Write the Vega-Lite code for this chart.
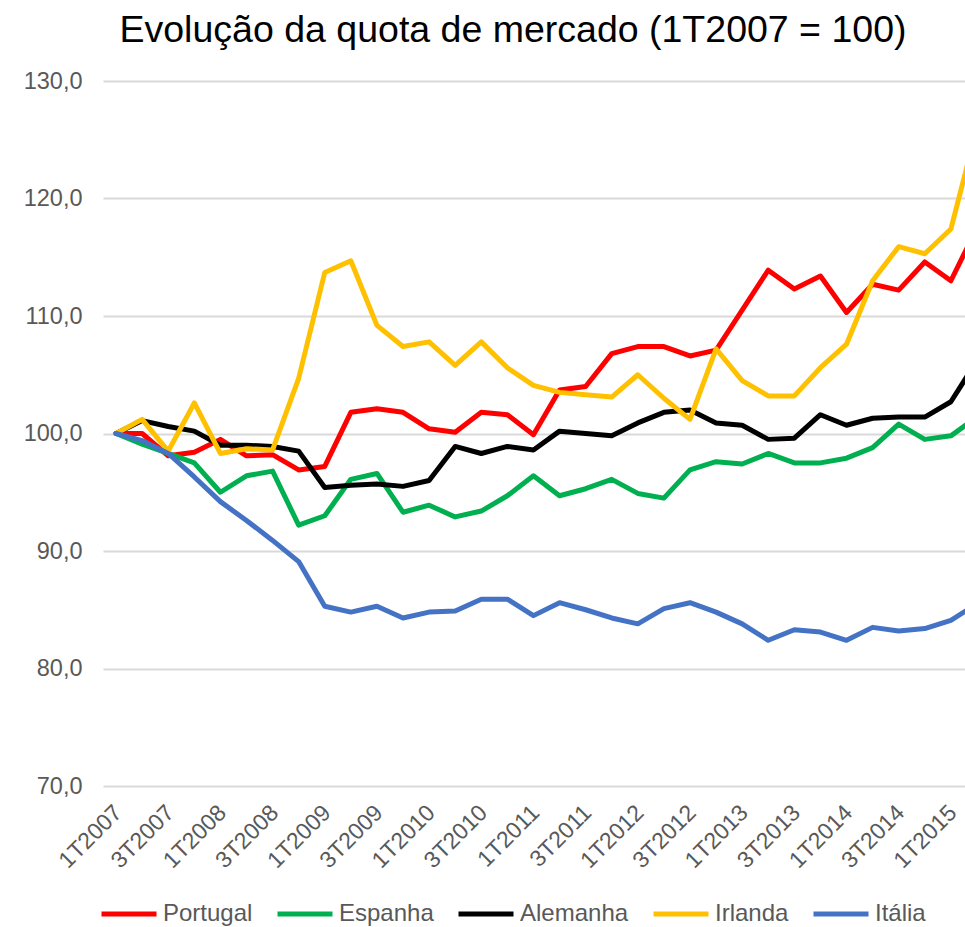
{
  "$schema": "https://vega.github.io/schema/vega-lite/v6.json",
  "width": 862,
  "height": 705,
  "autosize": "none",
  "padding": {"left": 103, "top": 81, "right": 0, "bottom": 141},
  "background": "#ffffff",
  "title": {
    "text": "Evolução da quota de mercado (1T2007 = 100)",
    "font": "Liberation Sans",
    "fontSize": 37.5,
    "fontWeight": "normal",
    "color": "#000000",
    "anchor": "middle",
    "dx": -21,
    "offset": 20
  },
  "data": {
    "values": [
      {"trimestre": "1T2007", "Portugal": 100.0, "Espanha": 100.0, "Alemanha": 100.0, "Irlanda": 100.0, "Itália": 100.0},
      {"trimestre": "2T2007", "Portugal": 100.0, "Espanha": 99.1, "Alemanha": 101.1, "Irlanda": 101.2, "Itália": 99.4},
      {"trimestre": "3T2007", "Portugal": 98.1, "Espanha": 98.3, "Alemanha": 100.6, "Irlanda": 98.5, "Itália": 98.3},
      {"trimestre": "4T2007", "Portugal": 98.4, "Espanha": 97.5, "Alemanha": 100.2, "Irlanda": 102.6, "Itália": 96.3},
      {"trimestre": "1T2008", "Portugal": 99.5, "Espanha": 95.0, "Alemanha": 99.0, "Irlanda": 98.3, "Itália": 94.2},
      {"trimestre": "2T2008", "Portugal": 98.1, "Espanha": 96.4, "Alemanha": 99.0, "Irlanda": 98.7, "Itália": 92.6},
      {"trimestre": "3T2008", "Portugal": 98.2, "Espanha": 96.8, "Alemanha": 98.9, "Irlanda": 98.6, "Itália": 90.9},
      {"trimestre": "4T2008", "Portugal": 96.9, "Espanha": 92.2, "Alemanha": 98.5, "Irlanda": 104.7, "Itália": 89.1},
      {"trimestre": "1T2009", "Portugal": 97.2, "Espanha": 93.0, "Alemanha": 95.4, "Irlanda": 113.7, "Itália": 85.3},
      {"trimestre": "2T2009", "Portugal": 101.8, "Espanha": 96.1, "Alemanha": 95.6, "Irlanda": 114.7, "Itália": 84.8},
      {"trimestre": "3T2009", "Portugal": 102.1, "Espanha": 96.6, "Alemanha": 95.7, "Irlanda": 109.2, "Itália": 85.3},
      {"trimestre": "4T2009", "Portugal": 101.8, "Espanha": 93.3, "Alemanha": 95.5, "Irlanda": 107.4, "Itália": 84.3},
      {"trimestre": "1T2010", "Portugal": 100.4, "Espanha": 93.9, "Alemanha": 96.0, "Irlanda": 107.8, "Itália": 84.8},
      {"trimestre": "2T2010", "Portugal": 100.1, "Espanha": 92.9, "Alemanha": 98.9, "Irlanda": 105.8, "Itália": 84.9},
      {"trimestre": "3T2010", "Portugal": 101.8, "Espanha": 93.4, "Alemanha": 98.3, "Irlanda": 107.8, "Itália": 85.9},
      {"trimestre": "4T2010", "Portugal": 101.6, "Espanha": 94.7, "Alemanha": 98.9, "Irlanda": 105.6, "Itália": 85.9},
      {"trimestre": "1T2011", "Portugal": 99.9, "Espanha": 96.4, "Alemanha": 98.6, "Irlanda": 104.1, "Itália": 84.5},
      {"trimestre": "2T2011", "Portugal": 103.7, "Espanha": 94.7, "Alemanha": 100.2, "Irlanda": 103.5, "Itália": 85.6},
      {"trimestre": "3T2011", "Portugal": 104.0, "Espanha": 95.3, "Alemanha": 100.0, "Irlanda": 103.3, "Itália": 85.0},
      {"trimestre": "4T2011", "Portugal": 106.8, "Espanha": 96.1, "Alemanha": 99.8, "Irlanda": 103.1, "Itália": 84.3},
      {"trimestre": "1T2012", "Portugal": 107.4, "Espanha": 94.9, "Alemanha": 100.9, "Irlanda": 105.0, "Itália": 83.8},
      {"trimestre": "2T2012", "Portugal": 107.4, "Espanha": 94.5, "Alemanha": 101.8, "Irlanda": 103.0, "Itália": 85.1},
      {"trimestre": "3T2012", "Portugal": 106.6, "Espanha": 96.9, "Alemanha": 102.0, "Irlanda": 101.2, "Itália": 85.6},
      {"trimestre": "4T2012", "Portugal": 107.1, "Espanha": 97.6, "Alemanha": 100.9, "Irlanda": 107.2, "Itália": 84.8},
      {"trimestre": "1T2013", "Portugal": 110.5, "Espanha": 97.4, "Alemanha": 100.7, "Irlanda": 104.5, "Itália": 83.8},
      {"trimestre": "2T2013", "Portugal": 113.9, "Espanha": 98.3, "Alemanha": 99.5, "Irlanda": 103.2, "Itália": 82.4},
      {"trimestre": "3T2013", "Portugal": 112.3, "Espanha": 97.5, "Alemanha": 99.6, "Irlanda": 103.2, "Itália": 83.3},
      {"trimestre": "4T2013", "Portugal": 113.4, "Espanha": 97.5, "Alemanha": 101.6, "Irlanda": 105.6, "Itália": 83.1},
      {"trimestre": "1T2014", "Portugal": 110.3, "Espanha": 97.9, "Alemanha": 100.7, "Irlanda": 107.6, "Itália": 82.4},
      {"trimestre": "2T2014", "Portugal": 112.7, "Espanha": 98.8, "Alemanha": 101.3, "Irlanda": 113.0, "Itália": 83.5},
      {"trimestre": "3T2014", "Portugal": 112.2, "Espanha": 100.8, "Alemanha": 101.4, "Irlanda": 115.9, "Itália": 83.2},
      {"trimestre": "4T2014", "Portugal": 114.6, "Espanha": 99.5, "Alemanha": 101.4, "Irlanda": 115.3, "Itália": 83.4},
      {"trimestre": "1T2015", "Portugal": 113.0, "Espanha": 99.8, "Alemanha": 102.7, "Irlanda": 117.4, "Itália": 84.1},
      {"trimestre": "2T2015", "Portugal": 117.5, "Espanha": 101.4, "Alemanha": 106.2, "Irlanda": 126.0, "Itália": 85.5}
    ]
  },
  "transform": [
    {"fold": ["Portugal", "Espanha", "Alemanha", "Irlanda", "Itália"], "as": ["pais", "valor"]}
  ],
  "mark": {"type": "line", "strokeWidth": 5, "clip": true, "strokeJoin": "round", "strokeCap": "round"},
  "encoding": {
    "x": {
      "field": "trimestre",
      "type": "ordinal",
      "sort": null,
      "scale": {"type": "point", "padding": 0.5, "range": [0, 887]},
      "axis": {
        "title": null,
        "values": ["1T2007", "3T2007", "1T2008", "3T2008", "1T2009", "3T2009", "1T2010", "3T2010", "1T2011", "3T2011", "1T2012", "3T2012", "1T2013", "3T2013", "1T2014", "3T2014", "1T2015"],
        "labelAngle": -45,
        "labelAlign": "right",
        "labelBaseline": "top",
        "labelFont": "Liberation Sans",
        "labelFontSize": 23,
        "labelColor": "#595959",
        "labelPadding": 15,
        "labelOffset": -6,
        "labelOverlap": false,
        "ticks": false,
        "tickSize": 0,
        "domain": false,
        "grid": false
      }
    },
    "y": {
      "field": "valor",
      "type": "quantitative",
      "scale": {"domain": [70, 130], "nice": false, "zero": false},
      "axis": {
        "title": null,
        "values": [70, 80, 90, 100, 110, 120, 130],
        "labelExpr": "replace(format(datum.value, '.1f'), '.', ',')",
        "labelFont": "Liberation Sans",
        "labelFontSize": 23.5,
        "labelColor": "#595959",
        "labelPadding": 21,
        "ticks": false,
        "tickSize": 0,
        "domain": false,
        "grid": true,
        "gridColor": "#d9d9d9",
        "gridWidth": 2
      }
    },
    "color": {
      "field": "pais",
      "type": "nominal",
      "sort": null,
      "scale": {
        "domain": ["Portugal", "Espanha", "Alemanha", "Irlanda", "Itália"],
        "range": ["#ff0000", "#00b050", "#000000", "#ffc000", "#4472c4"]
      },
      "legend": {
        "title": null,
        "orient": "none",
        "legendX": -4,
        "legendY": 803,
        "direction": "horizontal",
        "columns": 5,
        "symbolType": "stroke",
        "symbolSize": 3025,
        "symbolStrokeWidth": 5,
        "labelFont": "Liberation Sans",
        "labelFontSize": 24,
        "labelColor": "#595959",
        "labelOffset": 4,
        "columnPadding": 14,
        "labelLimit": 300
      }
    }
  },
  "config": {
    "font": "Liberation Sans",
    "view": {"stroke": null}
  }
}
